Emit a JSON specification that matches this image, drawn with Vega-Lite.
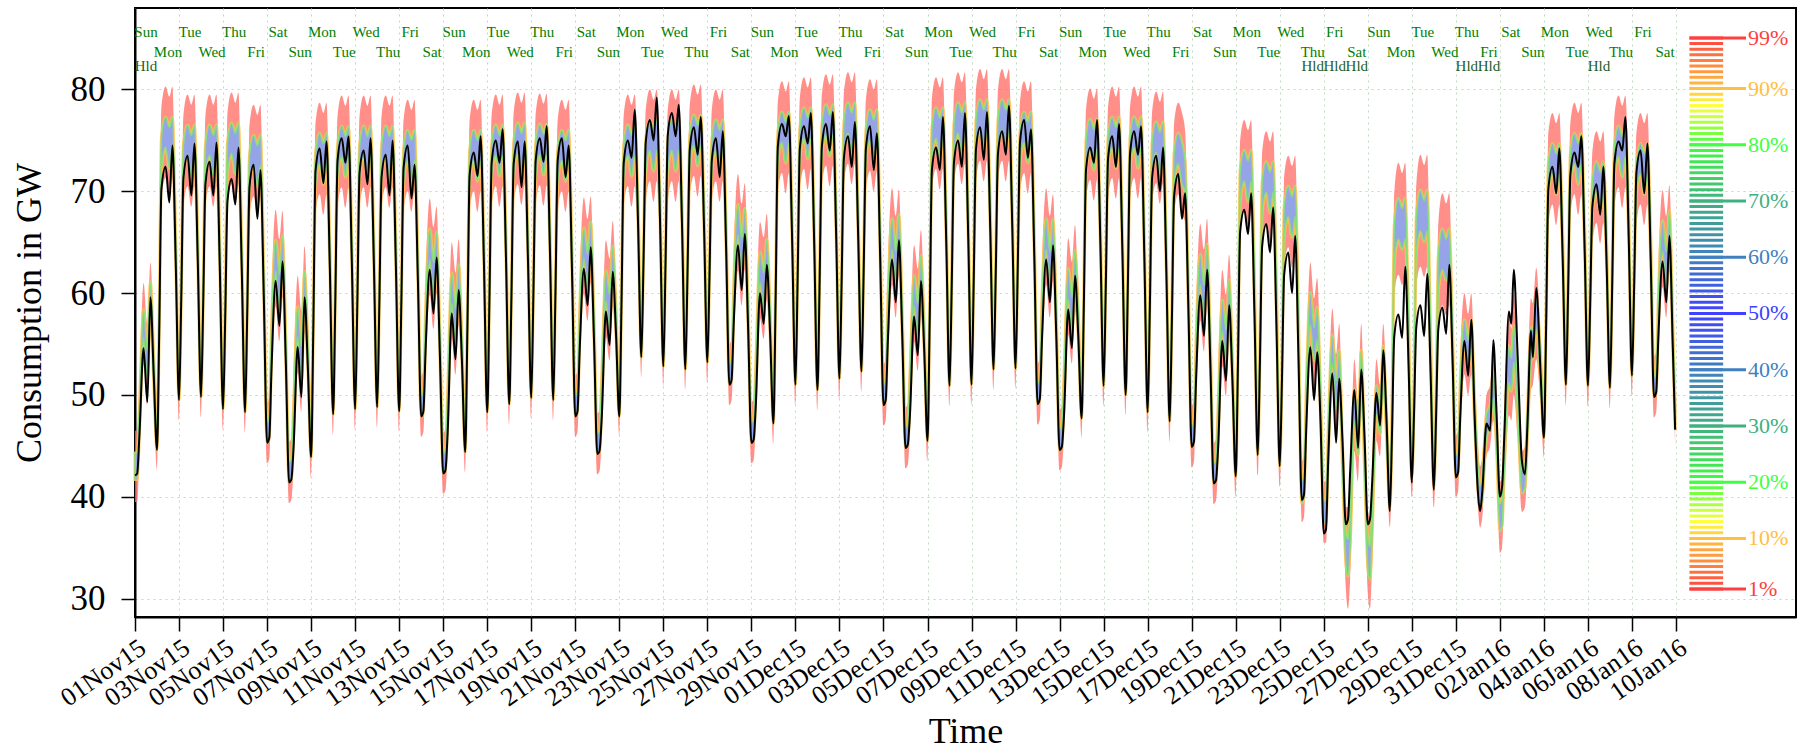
{
"$schema":"https://vega.github.io/schema/vega-lite/v6.json",
"width":1661,"height":609,"autosize":"none",
"padding":{"left":135,"top":8,"right":4,"bottom":133},
"background":"white",
"config":{"view":{"stroke":"black","strokeWidth":2},"font":"Liberation Serif",
 "axis":{"labelFont":"Liberation Serif","titleFont":"Liberation Serif","labelColor":"black","titleColor":"black","titleFontWeight":"normal","tickColor":"black","domainColor":"black","domainWidth":2,"tickWidth":1.5,"gridColor":"#BFD9BF","gridDash":[2,4],"gridWidth":1}},
"datasets":{
"fc":[
{"t":0,"y":42.1,"l":39.5,"p":41.7,"q":44.3,"h":46.5},
{"t":0.1,"y":42.3,"l":39.5,"p":41.7,"q":44.3,"h":46.5},
{"t":0.2,"y":46,"l":44,"p":46.2,"q":48.8,"h":51},
{"t":0.39,"y":54.6,"l":53,"p":55.6,"q":58.4,"h":61},
{"t":0.56,"y":49.3,"l":49,"p":51.6,"q":54.4,"h":57},
{"t":0.7,"y":59.6,"l":57,"p":58.9,"q":61.1,"h":63},
{"t":0.85,"y":52,"l":49,"p":51.2,"q":53.8,"h":56},
{"t":1,"y":44.6,"l":42.6,"p":44.6,"q":46.6,"h":48.6},
{"t":1.1,"y":56.1,"l":54.1,"p":56.1,"q":58.1,"h":60.1},
{"t":1.2,"y":70.2,"l":69.3,"p":72.3,"q":75.3,"h":78.3},
{"t":1.39,"y":72.4,"l":71.3,"p":74.3,"q":77.3,"h":80.3},
{"t":1.56,"y":68.9,"l":69.3,"p":72.3,"q":76.3,"h":79.3},
{"t":1.7,"y":74.5,"l":71.3,"p":74.3,"q":77.3,"h":80.3},
{"t":1.85,"y":63,"l":60.5,"p":63,"q":65.5,"h":67.5},
{"t":2,"y":49.5,"l":47.5,"p":49.5,"q":51.5,"h":53.5},
{"t":2.1,"y":59.3,"l":57.3,"p":59.3,"q":61.3,"h":63.3},
{"t":2.2,"y":71.3,"l":68.5,"p":71.5,"q":74.5,"h":77.5},
{"t":2.39,"y":73.5,"l":70.5,"p":73.5,"q":76.5,"h":79.5},
{"t":2.56,"y":69.6,"l":68.5,"p":71.5,"q":75.5,"h":78.5},
{"t":2.7,"y":74.7,"l":70.5,"p":73.5,"q":76.5,"h":79.5},
{"t":2.85,"y":63.3,"l":60.8,"p":63.3,"q":65.8,"h":67.8},
{"t":3,"y":49.8,"l":47.8,"p":49.8,"q":51.8,"h":53.8},
{"t":3.1,"y":59.2,"l":57.2,"p":59.2,"q":61.2,"h":63.2},
{"t":3.2,"y":70.7,"l":68.5,"p":71.5,"q":74.5,"h":77.5},
{"t":3.39,"y":72.9,"l":70.5,"p":73.5,"q":76.5,"h":79.5},
{"t":3.56,"y":69.6,"l":68.5,"p":71.5,"q":75.5,"h":78.5},
{"t":3.7,"y":74.8,"l":70.5,"p":73.5,"q":76.5,"h":79.5},
{"t":3.85,"y":62.7,"l":60.2,"p":62.7,"q":65.2,"h":67.2},
{"t":4,"y":48.6,"l":46.6,"p":48.6,"q":50.6,"h":52.6},
{"t":4.1,"y":57.8,"l":55.8,"p":57.8,"q":59.8,"h":61.8},
{"t":4.2,"y":69,"l":68.7,"p":71.7,"q":74.7,"h":77.7},
{"t":4.39,"y":71.2,"l":70.7,"p":73.7,"q":76.7,"h":79.7},
{"t":4.56,"y":68.7,"l":68.7,"p":71.7,"q":75.7,"h":78.7},
{"t":4.7,"y":74.3,"l":70.7,"p":73.7,"q":76.7,"h":79.7},
{"t":4.85,"y":62.3,"l":59.8,"p":62.3,"q":64.8,"h":66.8},
{"t":5,"y":48.3,"l":46.3,"p":48.3,"q":50.3,"h":52.3},
{"t":5.1,"y":58.2,"l":56.2,"p":58.2,"q":60.2,"h":62.2},
{"t":5.2,"y":70.4,"l":67.5,"p":70.5,"q":73.5,"h":76.5},
{"t":5.39,"y":72.6,"l":69.5,"p":72.5,"q":75.5,"h":78.5},
{"t":5.56,"y":67.3,"l":67.5,"p":70.5,"q":74.5,"h":77.5},
{"t":5.7,"y":72.1,"l":69.5,"p":72.5,"q":75.5,"h":78.5},
{"t":5.85,"y":59.7,"l":57.2,"p":59.7,"q":62.2,"h":64.2},
{"t":6,"y":45.3,"l":43.3,"p":45.3,"q":47.3,"h":49.3},
{"t":6.1,"y":45.8,"l":43.8,"p":45.8,"q":47.8,"h":49.8},
{"t":6.2,"y":52.5,"l":50.5,"p":53.5,"q":56.5,"h":59.5},
{"t":6.39,"y":61.2,"l":58.7,"p":62.2,"q":65.2,"h":68.2},
{"t":6.56,"y":56.8,"l":55.3,"p":58.3,"q":61.8,"h":65.3},
{"t":6.7,"y":63.1,"l":59.6,"p":62.6,"q":65.6,"h":68.1},
{"t":6.85,"y":53.3,"l":50.8,"p":53.3,"q":55.8,"h":57.8},
{"t":7,"y":41.4,"l":39.4,"p":41.4,"q":43.4,"h":45.4},
{"t":7.1,"y":41.7,"l":39.7,"p":41.7,"q":43.7,"h":45.7},
{"t":7.2,"y":44.7,"l":42.7,"p":45.7,"q":48.7,"h":51.7},
{"t":7.39,"y":54.7,"l":52.2,"p":55.7,"q":58.7,"h":61.7},
{"t":7.56,"y":49.8,"l":48.3,"p":51.3,"q":54.8,"h":58.3},
{"t":7.7,"y":59.6,"l":56.1,"p":59.1,"q":62.1,"h":64.6},
{"t":7.85,"y":52.8,"l":50.3,"p":52.8,"q":55.3,"h":57.3},
{"t":8,"y":43.9,"l":41.9,"p":43.9,"q":45.9,"h":47.9},
{"t":8.1,"y":56.5,"l":54.5,"p":56.5,"q":58.5,"h":60.5},
{"t":8.2,"y":72,"l":67.7,"p":70.7,"q":73.7,"h":76.7},
{"t":8.39,"y":74.2,"l":69.7,"p":72.7,"q":75.7,"h":78.7},
{"t":8.56,"y":70.8,"l":67.7,"p":70.7,"q":74.7,"h":77.7},
{"t":8.7,"y":74.9,"l":69.7,"p":72.7,"q":75.7,"h":78.7},
{"t":8.85,"y":62.5,"l":60,"p":62.5,"q":65,"h":67},
{"t":9,"y":48.1,"l":46.1,"p":48.1,"q":50.1,"h":52.1},
{"t":9.1,"y":59.3,"l":57.3,"p":59.3,"q":61.3,"h":63.3},
{"t":9.2,"y":73,"l":68.4,"p":71.4,"q":74.4,"h":77.4},
{"t":9.39,"y":75.2,"l":70.4,"p":73.4,"q":76.4,"h":79.4},
{"t":9.56,"y":72.8,"l":68.4,"p":71.4,"q":75.4,"h":78.4},
{"t":9.7,"y":75.4,"l":70.4,"p":73.4,"q":76.4,"h":79.4},
{"t":9.85,"y":63,"l":60.5,"p":63,"q":65.5,"h":67.5},
{"t":10,"y":48.6,"l":46.6,"p":48.6,"q":50.6,"h":52.6},
{"t":10.1,"y":59,"l":57,"p":59,"q":61,"h":63},
{"t":10.2,"y":71.8,"l":68.4,"p":71.4,"q":74.4,"h":77.4},
{"t":10.39,"y":74,"l":70.4,"p":73.4,"q":76.4,"h":79.4},
{"t":10.56,"y":70.7,"l":68.4,"p":71.4,"q":75.4,"h":78.4},
{"t":10.7,"y":75.2,"l":70.4,"p":73.4,"q":76.4,"h":79.4},
{"t":10.85,"y":63,"l":60.5,"p":63,"q":65.5,"h":67.5},
{"t":11,"y":48.8,"l":46.8,"p":48.8,"q":50.8,"h":52.8},
{"t":11.1,"y":59,"l":57,"p":59,"q":61,"h":63},
{"t":11.2,"y":71.4,"l":68.4,"p":71.4,"q":74.4,"h":77.4},
{"t":11.39,"y":73.6,"l":70.4,"p":73.4,"q":76.4,"h":79.4},
{"t":11.56,"y":69.6,"l":68.4,"p":71.4,"q":75.4,"h":78.4},
{"t":11.7,"y":75,"l":70.4,"p":73.4,"q":76.4,"h":79.4},
{"t":11.85,"y":62.7,"l":60.2,"p":62.7,"q":65.2,"h":67.2},
{"t":12,"y":48.4,"l":46.4,"p":48.4,"q":50.4,"h":52.4},
{"t":12.1,"y":59.2,"l":57.2,"p":59.2,"q":61.2,"h":63.2},
{"t":12.2,"y":72.3,"l":68,"p":71,"q":74,"h":77},
{"t":12.39,"y":74.5,"l":70,"p":73,"q":76,"h":79},
{"t":12.56,"y":69.3,"l":68,"p":71,"q":75,"h":78},
{"t":12.7,"y":72.6,"l":70,"p":73,"q":76,"h":79},
{"t":12.85,"y":61.3,"l":58.8,"p":61.3,"q":63.8,"h":65.8},
{"t":13,"y":47.9,"l":45.9,"p":47.9,"q":49.9,"h":51.9},
{"t":13.1,"y":48.4,"l":46.4,"p":48.4,"q":50.4,"h":52.4},
{"t":13.2,"y":54.4,"l":52.4,"p":55.4,"q":58.4,"h":61.4},
{"t":13.39,"y":62.3,"l":59.8,"p":63.3,"q":66.3,"h":69.3},
{"t":13.56,"y":58,"l":56.5,"p":59.5,"q":63,"h":66.5},
{"t":13.7,"y":63.5,"l":60,"p":63,"q":66,"h":68.5},
{"t":13.85,"y":53.9,"l":51.4,"p":53.9,"q":56.4,"h":58.4},
{"t":14,"y":42.3,"l":40.3,"p":42.3,"q":44.3,"h":46.3},
{"t":14.1,"y":42.6,"l":40.6,"p":42.6,"q":44.6,"h":46.6},
{"t":14.2,"y":46.2,"l":44.2,"p":47.2,"q":50.2,"h":53.2},
{"t":14.39,"y":58,"l":55.5,"p":59,"q":62,"h":65},
{"t":14.56,"y":53.5,"l":52,"p":55,"q":58.5,"h":62},
{"t":14.7,"y":60.3,"l":56.8,"p":59.8,"q":62.8,"h":65.3},
{"t":14.85,"y":53.4,"l":50.9,"p":53.4,"q":55.9,"h":57.9},
{"t":15,"y":44.4,"l":42.4,"p":44.4,"q":46.4,"h":48.4},
{"t":15.1,"y":56.6,"l":54.6,"p":56.6,"q":58.6,"h":60.6},
{"t":15.2,"y":71.6,"l":68,"p":71,"q":74,"h":77},
{"t":15.39,"y":73.8,"l":70,"p":73,"q":76,"h":79},
{"t":15.56,"y":71.5,"l":68,"p":71,"q":75,"h":78},
{"t":15.7,"y":75.4,"l":70,"p":73,"q":76,"h":79},
{"t":15.85,"y":62.9,"l":60.4,"p":62.9,"q":65.4,"h":67.4},
{"t":16,"y":48.3,"l":46.3,"p":48.3,"q":50.3,"h":52.3},
{"t":16.1,"y":59.3,"l":57.3,"p":59.3,"q":61.3,"h":63.3},
{"t":16.2,"y":72.8,"l":68.5,"p":71.5,"q":74.5,"h":77.5},
{"t":16.39,"y":75,"l":70.5,"p":73.5,"q":76.5,"h":79.5},
{"t":16.56,"y":72.8,"l":68.5,"p":71.5,"q":75.5,"h":78.5},
{"t":16.7,"y":76.1,"l":70.5,"p":73.5,"q":76.5,"h":79.5},
{"t":16.85,"y":63.6,"l":61.1,"p":63.6,"q":66.1,"h":68.1},
{"t":17,"y":49.1,"l":47.1,"p":49.1,"q":51.1,"h":53.1},
{"t":17.1,"y":59.7,"l":57.7,"p":59.7,"q":61.7,"h":63.7},
{"t":17.2,"y":72.7,"l":68.7,"p":71.7,"q":74.7,"h":77.7},
{"t":17.39,"y":74.9,"l":70.7,"p":73.7,"q":76.7,"h":79.7},
{"t":17.56,"y":70.4,"l":68.7,"p":71.7,"q":75.7,"h":78.7},
{"t":17.7,"y":74.9,"l":70.7,"p":73.7,"q":76.7,"h":79.7},
{"t":17.85,"y":63.3,"l":60.8,"p":63.3,"q":65.8,"h":67.8},
{"t":18,"y":49.7,"l":47.7,"p":49.7,"q":51.7,"h":53.7},
{"t":18.1,"y":60.2,"l":58.2,"p":60.2,"q":62.2,"h":64.2},
{"t":18.2,"y":73,"l":68.6,"p":71.6,"q":74.6,"h":77.6},
{"t":18.39,"y":75.2,"l":70.6,"p":73.6,"q":76.6,"h":79.6},
{"t":18.56,"y":72.9,"l":68.6,"p":71.6,"q":75.6,"h":78.6},
{"t":18.7,"y":76.4,"l":70.6,"p":73.6,"q":76.6,"h":79.6},
{"t":18.85,"y":64,"l":61.5,"p":64,"q":66.5,"h":68.5},
{"t":19,"y":49.5,"l":47.5,"p":49.5,"q":51.5,"h":53.5},
{"t":19.1,"y":60.1,"l":58.1,"p":60.1,"q":62.1,"h":64.1},
{"t":19.2,"y":73,"l":68,"p":71,"q":74,"h":77},
{"t":19.39,"y":75.2,"l":70,"p":73,"q":76,"h":79},
{"t":19.56,"y":71.4,"l":68,"p":71,"q":75,"h":78},
{"t":19.7,"y":74.5,"l":70,"p":73,"q":76,"h":79},
{"t":19.85,"y":62.2,"l":59.7,"p":62.2,"q":64.7,"h":66.7},
{"t":20,"y":47.9,"l":45.9,"p":47.9,"q":49.9,"h":51.9},
{"t":20.1,"y":48.4,"l":46.4,"p":48.4,"q":50.4,"h":52.4},
{"t":20.2,"y":54.4,"l":52.4,"p":55.4,"q":58.4,"h":61.4},
{"t":20.39,"y":62.4,"l":59.9,"p":63.4,"q":66.4,"h":69.4},
{"t":20.56,"y":58.8,"l":57.3,"p":60.3,"q":63.8,"h":67.3},
{"t":20.7,"y":64.5,"l":61,"p":64,"q":67,"h":69.5},
{"t":20.85,"y":55.4,"l":52.9,"p":55.4,"q":57.9,"h":59.9},
{"t":21,"y":44.2,"l":42.2,"p":44.2,"q":46.2,"h":48.2},
{"t":21.1,"y":44.5,"l":42.5,"p":44.5,"q":46.5,"h":48.5},
{"t":21.2,"y":47.7,"l":45.7,"p":48.7,"q":51.7,"h":54.7},
{"t":21.39,"y":58.2,"l":55.7,"p":59.2,"q":62.2,"h":65.2},
{"t":21.56,"y":54.9,"l":53.4,"p":56.4,"q":59.9,"h":63.4},
{"t":21.7,"y":62.1,"l":58.6,"p":61.6,"q":64.6,"h":67.1},
{"t":21.85,"y":56,"l":53.5,"p":56,"q":58.5,"h":60.5},
{"t":22,"y":47.9,"l":45.9,"p":47.9,"q":49.9,"h":51.9},
{"t":22.1,"y":59.1,"l":57.1,"p":59.1,"q":61.1,"h":63.1},
{"t":22.2,"y":72.8,"l":68.5,"p":71.5,"q":74.5,"h":77.5},
{"t":22.39,"y":75,"l":70.5,"p":73.5,"q":76.5,"h":79.5},
{"t":22.56,"y":73.3,"l":68.5,"p":71.5,"q":75.5,"h":78.5},
{"t":22.7,"y":78,"l":70.5,"p":73.5,"q":76.5,"h":79.5},
{"t":22.85,"y":66.9,"l":64.4,"p":66.9,"q":69.4,"h":71.4},
{"t":23,"y":53.7,"l":51.7,"p":53.7,"q":55.7,"h":57.7},
{"t":23.1,"y":63.2,"l":61.2,"p":63.2,"q":65.2,"h":67.2},
{"t":23.2,"y":74.8,"l":69,"p":72,"q":75,"h":78},
{"t":23.39,"y":77,"l":71,"p":74,"q":77,"h":80},
{"t":23.56,"y":75,"l":69,"p":72,"q":76,"h":79},
{"t":23.7,"y":79.2,"l":71,"p":74,"q":77,"h":80},
{"t":23.85,"y":67,"l":64.5,"p":67,"q":69.5,"h":71.5},
{"t":24,"y":52.8,"l":50.8,"p":52.8,"q":54.8,"h":56.8},
{"t":24.1,"y":63,"l":61,"p":63,"q":65,"h":67},
{"t":24.2,"y":75.5,"l":69,"p":72,"q":75,"h":78},
{"t":24.39,"y":77.7,"l":71,"p":74,"q":77,"h":80},
{"t":24.56,"y":75.4,"l":69,"p":72,"q":76,"h":79},
{"t":24.7,"y":78.5,"l":71,"p":74,"q":77,"h":80},
{"t":24.85,"y":66.5,"l":64,"p":66.5,"q":69,"h":71},
{"t":25,"y":52.5,"l":50.5,"p":52.5,"q":54.5,"h":56.5},
{"t":25.1,"y":62.2,"l":60.2,"p":62.2,"q":64.2,"h":66.2},
{"t":25.2,"y":74.1,"l":69.5,"p":72.5,"q":75.5,"h":78.5},
{"t":25.39,"y":76.3,"l":71.5,"p":74.5,"q":77.5,"h":80.5},
{"t":25.56,"y":73.6,"l":69.5,"p":72.5,"q":76.5,"h":79.5},
{"t":25.7,"y":77.3,"l":71.5,"p":74.5,"q":77.5,"h":80.5},
{"t":25.85,"y":66.3,"l":63.8,"p":66.3,"q":68.8,"h":70.8},
{"t":26,"y":53.2,"l":51.2,"p":53.2,"q":55.2,"h":57.2},
{"t":26.1,"y":62.1,"l":60.1,"p":62.1,"q":64.1,"h":66.1},
{"t":26.2,"y":73,"l":69,"p":72,"q":75,"h":78},
{"t":26.39,"y":75.2,"l":71,"p":74,"q":77,"h":80},
{"t":26.56,"y":71.4,"l":69,"p":72,"q":76,"h":79},
{"t":26.7,"y":75.9,"l":71,"p":74,"q":77,"h":80},
{"t":26.85,"y":64.5,"l":62,"p":64.5,"q":67,"h":69},
{"t":27,"y":51,"l":49,"p":51,"q":53,"h":55},
{"t":27.1,"y":51.5,"l":49.5,"p":51.5,"q":53.5,"h":55.5},
{"t":27.2,"y":57.2,"l":55.2,"p":58.2,"q":61.2,"h":64.2},
{"t":27.39,"y":64.7,"l":62.2,"p":65.7,"q":68.7,"h":71.7},
{"t":27.56,"y":60.3,"l":58.8,"p":61.8,"q":65.3,"h":68.8},
{"t":27.7,"y":65.8,"l":62.3,"p":65.3,"q":68.3,"h":70.8},
{"t":27.85,"y":56.6,"l":54.1,"p":56.6,"q":59.1,"h":61.1},
{"t":28,"y":45.3,"l":43.3,"p":45.3,"q":47.3,"h":49.3},
{"t":28.1,"y":45.6,"l":43.6,"p":45.6,"q":47.6,"h":49.6},
{"t":28.2,"y":49,"l":47,"p":50,"q":53,"h":56},
{"t":28.39,"y":60,"l":57.5,"p":61,"q":64,"h":67},
{"t":28.56,"y":57,"l":55.5,"p":58.5,"q":62,"h":65.5},
{"t":28.7,"y":62.8,"l":59.3,"p":62.3,"q":65.3,"h":67.8},
{"t":28.85,"y":56,"l":53.5,"p":56,"q":58.5,"h":60.5},
{"t":29,"y":47.2,"l":45.2,"p":47.2,"q":49.2,"h":51.2},
{"t":29.1,"y":59.4,"l":57.4,"p":59.4,"q":61.4,"h":63.4},
{"t":29.2,"y":74.4,"l":69.8,"p":72.8,"q":75.8,"h":78.8},
{"t":29.39,"y":76.6,"l":71.8,"p":74.8,"q":77.8,"h":80.8},
{"t":29.56,"y":75.4,"l":69.8,"p":72.8,"q":76.8,"h":79.8},
{"t":29.7,"y":77.4,"l":71.8,"p":74.8,"q":77.8,"h":80.8},
{"t":29.85,"y":65.2,"l":62.7,"p":65.2,"q":67.7,"h":69.7},
{"t":30,"y":51,"l":49,"p":51,"q":53,"h":55},
{"t":30.1,"y":61.4,"l":59.4,"p":61.4,"q":63.4,"h":65.4},
{"t":30.2,"y":74.2,"l":70.2,"p":73.2,"q":76.2,"h":79.2},
{"t":30.39,"y":76.4,"l":72.2,"p":75.2,"q":78.2,"h":81.2},
{"t":30.56,"y":74.7,"l":70.2,"p":73.2,"q":77.2,"h":80.2},
{"t":30.7,"y":77.7,"l":72.2,"p":75.2,"q":78.2,"h":81.2},
{"t":30.85,"y":65.1,"l":62.6,"p":65.1,"q":67.6,"h":69.6},
{"t":31,"y":50.5,"l":48.5,"p":50.5,"q":52.5,"h":54.5},
{"t":31.1,"y":61.3,"l":59.3,"p":61.3,"q":63.3,"h":65.3},
{"t":31.2,"y":74.4,"l":70.5,"p":73.5,"q":76.5,"h":79.5},
{"t":31.39,"y":76.6,"l":72.5,"p":75.5,"q":78.5,"h":81.5},
{"t":31.56,"y":74,"l":70.5,"p":73.5,"q":77.5,"h":80.5},
{"t":31.7,"y":77.8,"l":72.5,"p":75.5,"q":78.5,"h":81.5},
{"t":31.85,"y":65.7,"l":63.2,"p":65.7,"q":68.2,"h":70.2},
{"t":32,"y":51.6,"l":49.6,"p":51.6,"q":53.6,"h":55.6},
{"t":32.1,"y":61.3,"l":59.3,"p":61.3,"q":63.3,"h":65.3},
{"t":32.2,"y":73.2,"l":70.7,"p":73.7,"q":76.7,"h":79.7},
{"t":32.39,"y":75.4,"l":72.7,"p":75.7,"q":78.7,"h":81.7},
{"t":32.56,"y":72.4,"l":70.7,"p":73.7,"q":77.7,"h":80.7},
{"t":32.7,"y":76.8,"l":72.7,"p":75.7,"q":78.7,"h":81.7},
{"t":32.85,"y":65.6,"l":63.1,"p":65.6,"q":68.1,"h":70.1},
{"t":33,"y":52.3,"l":50.3,"p":52.3,"q":54.3,"h":56.3},
{"t":33.1,"y":62.2,"l":60.2,"p":62.2,"q":64.2,"h":66.2},
{"t":33.2,"y":74.2,"l":70,"p":73,"q":76,"h":79},
{"t":33.39,"y":76.4,"l":72,"p":75,"q":78,"h":81},
{"t":33.56,"y":72.1,"l":70,"p":73,"q":77,"h":80},
{"t":33.7,"y":75.7,"l":72,"p":75,"q":78,"h":81},
{"t":33.85,"y":63.4,"l":60.9,"p":63.4,"q":65.9,"h":67.9},
{"t":34,"y":49,"l":47,"p":49,"q":51,"h":53},
{"t":34.1,"y":49.5,"l":47.5,"p":49.5,"q":51.5,"h":53.5},
{"t":34.2,"y":55.4,"l":53.4,"p":56.4,"q":59.4,"h":62.4},
{"t":34.39,"y":63.3,"l":60.8,"p":64.3,"q":67.3,"h":70.3},
{"t":34.56,"y":59.1,"l":57.6,"p":60.6,"q":64.1,"h":67.6},
{"t":34.7,"y":65.2,"l":61.7,"p":64.7,"q":67.7,"h":70.2},
{"t":34.85,"y":56,"l":53.5,"p":56,"q":58.5,"h":60.5},
{"t":35,"y":44.8,"l":42.8,"p":44.8,"q":46.8,"h":48.8},
{"t":35.1,"y":45.1,"l":43.1,"p":45.1,"q":47.1,"h":49.1},
{"t":35.2,"y":48,"l":46,"p":49,"q":52,"h":55},
{"t":35.39,"y":57.7,"l":55.2,"p":58.7,"q":61.7,"h":64.7},
{"t":35.56,"y":53.9,"l":52.4,"p":55.4,"q":58.9,"h":62.4},
{"t":35.7,"y":61.2,"l":57.7,"p":60.7,"q":63.7,"h":66.2},
{"t":35.85,"y":54.4,"l":51.9,"p":54.4,"q":56.9,"h":58.9},
{"t":36,"y":45.5,"l":43.5,"p":45.5,"q":47.5,"h":49.5},
{"t":36.1,"y":57.5,"l":55.5,"p":57.5,"q":59.5,"h":61.5},
{"t":36.2,"y":72.1,"l":70.2,"p":73.2,"q":76.2,"h":79.2},
{"t":36.39,"y":74.3,"l":72.2,"p":75.2,"q":78.2,"h":81.2},
{"t":36.56,"y":72.1,"l":70.2,"p":73.2,"q":77.2,"h":80.2},
{"t":36.7,"y":77.3,"l":72.2,"p":75.2,"q":78.2,"h":81.2},
{"t":36.85,"y":65.1,"l":62.6,"p":65.1,"q":67.6,"h":69.6},
{"t":37,"y":50.9,"l":48.9,"p":50.9,"q":52.9,"h":54.9},
{"t":37.1,"y":60.8,"l":58.8,"p":60.8,"q":62.8,"h":64.8},
{"t":37.2,"y":72.8,"l":70.7,"p":73.7,"q":76.7,"h":79.7},
{"t":37.39,"y":75,"l":72.7,"p":75.7,"q":78.7,"h":81.7},
{"t":37.56,"y":72.4,"l":70.7,"p":73.7,"q":77.7,"h":80.7},
{"t":37.7,"y":77.7,"l":72.7,"p":75.7,"q":78.7,"h":81.7},
{"t":37.85,"y":65.4,"l":62.9,"p":65.4,"q":67.9,"h":69.9},
{"t":38,"y":51,"l":49,"p":51,"q":53,"h":55},
{"t":38.1,"y":61.4,"l":59.4,"p":61.4,"q":63.4,"h":65.4},
{"t":38.2,"y":74.1,"l":71,"p":74,"q":77,"h":80},
{"t":38.39,"y":76.3,"l":73,"p":76,"q":79,"h":82},
{"t":38.56,"y":73.1,"l":71,"p":74,"q":78,"h":81},
{"t":38.7,"y":77.8,"l":73,"p":76,"q":79,"h":82},
{"t":38.85,"y":66.2,"l":63.7,"p":66.2,"q":68.7,"h":70.7},
{"t":39,"y":52.5,"l":50.5,"p":52.5,"q":54.5,"h":56.5},
{"t":39.1,"y":62,"l":60,"p":62,"q":64,"h":66},
{"t":39.2,"y":73.7,"l":71,"p":74,"q":77,"h":80},
{"t":39.39,"y":75.9,"l":73,"p":76,"q":79,"h":82},
{"t":39.56,"y":73.6,"l":71,"p":74,"q":78,"h":81},
{"t":39.7,"y":78.4,"l":73,"p":76,"q":79,"h":82},
{"t":39.85,"y":66.5,"l":64,"p":66.5,"q":69,"h":71},
{"t":40,"y":52.6,"l":50.6,"p":52.6,"q":54.6,"h":56.6},
{"t":40.1,"y":62.6,"l":60.6,"p":62.6,"q":64.6,"h":66.6},
{"t":40.2,"y":74.8,"l":69.8,"p":72.8,"q":75.8,"h":78.8},
{"t":40.39,"y":77,"l":71.8,"p":74.8,"q":77.8,"h":80.8},
{"t":40.56,"y":73.3,"l":69.8,"p":72.8,"q":76.8,"h":79.8},
{"t":40.7,"y":76.1,"l":71.8,"p":74.8,"q":77.8,"h":80.8},
{"t":40.85,"y":63.6,"l":61.1,"p":63.6,"q":66.1,"h":68.1},
{"t":41,"y":49.1,"l":47.1,"p":49.1,"q":51.1,"h":53.1},
{"t":41.1,"y":49.6,"l":47.6,"p":49.6,"q":51.6,"h":53.6},
{"t":41.2,"y":55.5,"l":53.5,"p":56.5,"q":59.5,"h":62.5},
{"t":41.39,"y":63.3,"l":60.8,"p":64.3,"q":67.3,"h":70.3},
{"t":41.56,"y":59.1,"l":57.6,"p":60.6,"q":64.1,"h":67.6},
{"t":41.7,"y":64.7,"l":61.2,"p":64.2,"q":67.2,"h":69.7},
{"t":41.85,"y":55.7,"l":53.2,"p":55.7,"q":58.2,"h":60.2},
{"t":42,"y":44.6,"l":42.6,"p":44.6,"q":46.6,"h":48.6},
{"t":42.1,"y":44.9,"l":42.9,"p":44.9,"q":46.9,"h":48.9},
{"t":42.2,"y":48,"l":46,"p":49,"q":52,"h":55},
{"t":42.39,"y":58.4,"l":55.9,"p":59.4,"q":62.4,"h":65.4},
{"t":42.56,"y":54.6,"l":53.1,"p":56.1,"q":59.6,"h":63.1},
{"t":42.7,"y":61.7,"l":58.2,"p":61.2,"q":64.2,"h":66.7},
{"t":42.85,"y":55.7,"l":53.2,"p":55.7,"q":58.2,"h":60.2},
{"t":43,"y":47.7,"l":45.7,"p":47.7,"q":49.7,"h":51.7},
{"t":43.1,"y":58.7,"l":56.7,"p":58.7,"q":60.7,"h":62.7},
{"t":43.2,"y":72.1,"l":69.1,"p":72.1,"q":75.1,"h":78.1},
{"t":43.39,"y":74.3,"l":71.1,"p":74.1,"q":77.1,"h":80.1},
{"t":43.56,"y":72.8,"l":69.1,"p":72.1,"q":76.1,"h":79.1},
{"t":43.7,"y":77,"l":71.1,"p":74.1,"q":77.1,"h":80.1},
{"t":43.85,"y":65,"l":62.5,"p":65,"q":67.5,"h":69.5},
{"t":44,"y":50.9,"l":48.9,"p":50.9,"q":52.9,"h":54.9},
{"t":44.1,"y":60.9,"l":58.9,"p":60.9,"q":62.9,"h":64.9},
{"t":44.2,"y":73.2,"l":69.3,"p":72.3,"q":75.3,"h":78.3},
{"t":44.39,"y":75.4,"l":71.3,"p":74.3,"q":77.3,"h":80.3},
{"t":44.56,"y":72.4,"l":69.3,"p":72.3,"q":76.3,"h":79.3},
{"t":44.7,"y":76.6,"l":71.3,"p":74.3,"q":77.3,"h":80.3},
{"t":44.85,"y":64.3,"l":61.8,"p":64.3,"q":66.8,"h":68.8},
{"t":45,"y":50,"l":48,"p":50,"q":52,"h":54},
{"t":45.1,"y":60.7,"l":58.7,"p":60.7,"q":62.7,"h":64.7},
{"t":45.2,"y":73.7,"l":69.3,"p":72.3,"q":75.3,"h":78.3},
{"t":45.39,"y":75.9,"l":71.3,"p":74.3,"q":77.3,"h":80.3},
{"t":45.56,"y":73.6,"l":69.3,"p":72.3,"q":76.3,"h":79.3},
{"t":45.7,"y":76.4,"l":71.3,"p":74.3,"q":77.3,"h":80.3},
{"t":45.85,"y":63.4,"l":60.9,"p":63.4,"q":65.9,"h":67.9},
{"t":46,"y":48.3,"l":46.3,"p":48.3,"q":50.3,"h":52.3},
{"t":46.1,"y":58.7,"l":56.7,"p":58.7,"q":60.7,"h":62.7},
{"t":46.2,"y":71.3,"l":68.8,"p":71.8,"q":74.8,"h":77.8},
{"t":46.39,"y":73.5,"l":70.8,"p":73.8,"q":76.8,"h":79.8},
{"t":46.56,"y":70,"l":68.8,"p":71.8,"q":75.8,"h":78.8},
{"t":46.7,"y":74.3,"l":70.8,"p":73.8,"q":76.8,"h":79.8},
{"t":46.85,"y":61.9,"l":59.4,"p":61.9,"q":64.4,"h":66.4},
{"t":47,"y":47.4,"l":45.4,"p":47.4,"q":49.4,"h":51.4},
{"t":47.1,"y":57.3,"l":55.3,"p":57.3,"q":59.3,"h":61.3},
{"t":47.2,"y":69.5,"l":67.7,"p":70.7,"q":73.7,"h":76.7},
{"t":47.39,"y":71.7,"l":69.7,"p":72.7,"q":75.7,"h":78.7},
{"t":47.56,"y":67.3,"l":67.7,"p":70.7,"q":74.7,"h":77.7},
{"t":47.7,"y":69.8,"l":67,"p":70,"q":73,"h":76},
{"t":47.85,"y":58.4,"l":55.9,"p":58.4,"q":60.9,"h":62.9},
{"t":48,"y":44.9,"l":42.9,"p":44.9,"q":46.9,"h":48.9},
{"t":48.1,"y":45.4,"l":43.4,"p":45.4,"q":47.4,"h":49.4},
{"t":48.2,"y":51.6,"l":49.6,"p":52.6,"q":55.6,"h":58.6},
{"t":48.39,"y":59.8,"l":57.3,"p":60.8,"q":63.8,"h":66.8},
{"t":48.56,"y":55.8,"l":54.3,"p":57.3,"q":60.8,"h":64.3},
{"t":48.7,"y":62.3,"l":58.8,"p":61.8,"q":64.8,"h":67.3},
{"t":48.85,"y":52.8,"l":50.3,"p":52.8,"q":55.3,"h":57.3},
{"t":49,"y":41.3,"l":39.3,"p":41.3,"q":43.3,"h":45.3},
{"t":49.1,"y":41.6,"l":39.6,"p":41.6,"q":43.6,"h":45.6},
{"t":49.2,"y":44.8,"l":42.8,"p":45.8,"q":48.8,"h":51.8},
{"t":49.39,"y":55.3,"l":52.8,"p":56.3,"q":59.3,"h":62.3},
{"t":49.56,"y":51.4,"l":49.9,"p":52.9,"q":56.4,"h":59.9},
{"t":49.7,"y":58.8,"l":55.3,"p":58.3,"q":61.3,"h":63.8},
{"t":49.85,"y":51.4,"l":48.9,"p":51.4,"q":53.9,"h":55.9},
{"t":50,"y":42,"l":40,"p":42,"q":44,"h":46},
{"t":50.1,"y":52.8,"l":50.8,"p":52.8,"q":54.8,"h":56.8},
{"t":50.2,"y":66,"l":66,"p":69,"q":72,"h":75},
{"t":50.39,"y":68.2,"l":68,"p":71,"q":74,"h":77},
{"t":50.56,"y":65.8,"l":66,"p":69,"q":73,"h":76},
{"t":50.7,"y":69.8,"l":68,"p":71,"q":74,"h":77},
{"t":50.85,"y":58,"l":56,"p":59,"q":62,"h":64},
{"t":51,"y":44.1,"l":42.1,"p":44.1,"q":46.1,"h":48.1},
{"t":51.1,"y":53.3,"l":51.3,"p":53.3,"q":55.3,"h":57.3},
{"t":51.2,"y":64.6,"l":64.9,"p":67.9,"q":70.9,"h":73.9},
{"t":51.39,"y":66.8,"l":66.9,"p":69.9,"q":72.9,"h":75.9},
{"t":51.56,"y":64,"l":64.9,"p":67.9,"q":71.9,"h":74.9},
{"t":51.7,"y":68.4,"l":66.9,"p":69.9,"q":72.9,"h":75.9},
{"t":51.85,"y":56.7,"l":55,"p":58,"q":61,"h":63},
{"t":52,"y":43,"l":41,"p":43,"q":45,"h":47},
{"t":52.1,"y":51.5,"l":49.5,"p":51.5,"q":53.5,"h":55.5},
{"t":52.2,"y":61.8,"l":62.5,"p":65.5,"q":68.5,"h":71.5},
{"t":52.39,"y":64,"l":64.5,"p":67.5,"q":70.5,"h":73.5},
{"t":52.56,"y":60,"l":62.5,"p":65.5,"q":69.5,"h":72.5},
{"t":52.7,"y":65.6,"l":64.5,"p":67.5,"q":70.5,"h":73.5},
{"t":52.85,"y":53.7,"l":52,"p":55,"q":58,"h":60},
{"t":53,"y":39.7,"l":37.5,"p":39.4,"q":41.6,"h":43.5},
{"t":53.1,"y":40.2,"l":38,"p":39.9,"q":42.1,"h":44},
{"t":53.2,"y":46.5,"l":45,"p":47.6,"q":50.4,"h":53},
{"t":53.39,"y":54.7,"l":54,"p":56.9,"q":60.1,"h":63},
{"t":53.56,"y":49.5,"l":50.5,"p":53.4,"q":56.6,"h":59.5},
{"t":53.7,"y":54.2,"l":52.5,"p":55.4,"q":58.6,"h":61.5},
{"t":53.85,"y":47.5,"l":46,"p":48.2,"q":50.8,"h":53},
{"t":54,"y":36.4,"l":35.5,"p":37.4,"q":39.6,"h":41.5},
{"t":54.1,"y":36.8,"l":35.5,"p":37.4,"q":39.6,"h":41.5},
{"t":54.2,"y":43.5,"l":41,"p":43.6,"q":46.4,"h":49},
{"t":54.39,"y":52.1,"l":50.5,"p":53.1,"q":55.9,"h":58.5},
{"t":54.56,"y":45.3,"l":46,"p":48.6,"q":51.4,"h":54},
{"t":54.7,"y":51.6,"l":49,"p":51.6,"q":54.4,"h":57},
{"t":54.85,"y":45.5,"l":40.5,"p":42.7,"q":45.3,"h":47.5},
{"t":55,"y":37.3,"l":31,"p":33.6,"q":36.4,"h":39},
{"t":55.1,"y":37.8,"l":29,"p":32.2,"q":35.8,"h":39},
{"t":55.2,"y":42.6,"l":32,"p":35.2,"q":38.8,"h":42},
{"t":55.39,"y":50.5,"l":44.5,"p":47.4,"q":50.6,"h":53.5},
{"t":55.56,"y":44.8,"l":41.5,"p":44.1,"q":46.9,"h":49.5},
{"t":55.7,"y":52.5,"l":49,"p":51.6,"q":54.4,"h":57},
{"t":55.85,"y":45.9,"l":40.5,"p":42.7,"q":45.3,"h":47.5},
{"t":56,"y":37.3,"l":30.5,"p":33.1,"q":35.9,"h":38.5},
{"t":56.1,"y":37.8,"l":29,"p":31.9,"q":35.1,"h":38},
{"t":56.2,"y":41.5,"l":33.5,"p":36.4,"q":39.6,"h":42.5},
{"t":56.39,"y":50.2,"l":45.5,"p":48.1,"q":50.9,"h":53.5},
{"t":56.56,"y":47,"l":44,"p":46.2,"q":48.8,"h":51},
{"t":56.7,"y":54.4,"l":50,"p":52.2,"q":54.8,"h":57},
{"t":56.85,"y":47.5,"l":43.5,"p":45.7,"q":48.3,"h":50.5},
{"t":57,"y":38.6,"l":37,"p":38.9,"q":41.1,"h":43},
{"t":57.1,"y":46.3,"l":44,"p":46.6,"q":49.4,"h":52},
{"t":57.2,"y":55.7,"l":59.8,"p":63,"q":66.6,"h":69.8},
{"t":57.39,"y":57.9,"l":61.8,"p":65.3,"q":69.3,"h":72.8},
{"t":57.56,"y":55.6,"l":60.8,"p":64.3,"q":68.3,"h":71.8},
{"t":57.7,"y":62.6,"l":61.8,"p":65.3,"q":69.3,"h":72.8},
{"t":57.85,"y":53,"l":51.5,"p":54.4,"q":57.6,"h":60.5},
{"t":58,"y":41.4,"l":40,"p":41.9,"q":44.1,"h":46},
{"t":58.1,"y":48.2,"l":46,"p":48.6,"q":51.4,"h":54},
{"t":58.2,"y":56.6,"l":60.6,"p":63.8,"q":67.4,"h":70.6},
{"t":58.39,"y":58.8,"l":62.6,"p":66.1,"q":70.1,"h":73.6},
{"t":58.56,"y":55.8,"l":61.6,"p":65.1,"q":69.1,"h":72.6},
{"t":58.7,"y":61.9,"l":62.6,"p":66.1,"q":70.1,"h":73.6},
{"t":58.85,"y":52.3,"l":50.5,"p":53.4,"q":56.6,"h":59.5},
{"t":59,"y":40.7,"l":39,"p":40.9,"q":43.1,"h":45},
{"t":59.1,"y":47.8,"l":45,"p":47.6,"q":50.4,"h":53},
{"t":59.2,"y":56.4,"l":56.8,"p":60,"q":63.6,"h":66.8},
{"t":59.39,"y":58.6,"l":58.8,"p":62.3,"q":66.3,"h":69.8},
{"t":59.56,"y":56,"l":57.8,"p":61.3,"q":65.3,"h":68.8},
{"t":59.7,"y":62.8,"l":58.8,"p":62.3,"q":66.3,"h":69.8},
{"t":59.85,"y":53.4,"l":51,"p":53.6,"q":56.4,"h":59},
{"t":60,"y":41.9,"l":40,"p":41.9,"q":44.1,"h":46},
{"t":60.1,"y":42.4,"l":40.5,"p":42.4,"q":44.6,"h":46.5},
{"t":60.2,"y":47.9,"l":46,"p":48.6,"q":51.4,"h":54},
{"t":60.39,"y":55.3,"l":52,"p":54.6,"q":57.4,"h":60},
{"t":60.56,"y":51.9,"l":50,"p":52.6,"q":55.4,"h":58},
{"t":60.7,"y":57.4,"l":52,"p":54.6,"q":57.4,"h":60},
{"t":60.85,"y":48,"l":45,"p":47.2,"q":49.8,"h":52},
{"t":61,"y":40.5,"l":39,"p":40.9,"q":43.1,"h":45},
{"t":61.1,"y":38.6,"l":37,"p":38.9,"q":41.1,"h":43},
{"t":61.2,"y":40.5,"l":38,"p":39.9,"q":42.1,"h":44},
{"t":61.39,"y":47.2,"l":44,"p":45.9,"q":48.1,"h":50},
{"t":61.56,"y":46.5,"l":45,"p":46.9,"q":49.1,"h":51},
{"t":61.7,"y":55.4,"l":47.5,"p":49.7,"q":52.3,"h":54.5},
{"t":61.85,"y":48,"l":42.5,"p":44.7,"q":47.3,"h":49.5},
{"t":62,"y":40,"l":34.5,"p":36.7,"q":39.3,"h":41.5},
{"t":62.1,"y":41,"l":35,"p":37.2,"q":39.8,"h":42},
{"t":62.2,"y":46,"l":40,"p":42.6,"q":45.4,"h":48},
{"t":62.41,"y":58.2,"l":48,"p":51.2,"q":54.8,"h":58},
{"t":62.52,"y":57,"l":47.5,"p":50.4,"q":53.6,"h":56.5},
{"t":62.63,"y":62.3,"l":50,"p":53.2,"q":56.8,"h":60},
{"t":62.8,"y":54.2,"l":46,"p":48.6,"q":51.4,"h":54},
{"t":63,"y":43.5,"l":38.5,"p":40.4,"q":42.6,"h":44.5},
{"t":63.14,"y":42.2,"l":39,"p":40.9,"q":43.1,"h":45},
{"t":63.25,"y":47,"l":43.5,"p":45.7,"q":48.3,"h":50.5},
{"t":63.41,"y":56.3,"l":50.5,"p":53.4,"q":56.6,"h":59.5},
{"t":63.5,"y":53.7,"l":51,"p":53.6,"q":56.4,"h":59},
{"t":63.65,"y":60.5,"l":53.5,"p":56.4,"q":59.6,"h":62.5},
{"t":63.85,"y":52,"l":49,"p":51.2,"q":53.8,"h":56},
{"t":64,"y":45.8,"l":43.8,"p":45.8,"q":47.8,"h":49.8},
{"t":64.1,"y":56.8,"l":54.8,"p":56.8,"q":58.8,"h":60.8},
{"t":64.2,"y":70.2,"l":66.7,"p":69.7,"q":72.7,"h":75.7},
{"t":64.39,"y":72.4,"l":68.7,"p":71.7,"q":74.7,"h":77.7},
{"t":64.56,"y":69.8,"l":66.7,"p":69.7,"q":73.7,"h":76.7},
{"t":64.7,"y":74.2,"l":68.7,"p":71.7,"q":74.7,"h":77.7},
{"t":64.85,"y":63.6,"l":61.1,"p":63.6,"q":66.1,"h":68.1},
{"t":65,"y":51,"l":49,"p":51,"q":53,"h":55},
{"t":65.1,"y":60.3,"l":58.3,"p":60.3,"q":62.3,"h":64.3},
{"t":65.2,"y":71.6,"l":67.7,"p":70.7,"q":73.7,"h":76.7},
{"t":65.39,"y":73.8,"l":69.7,"p":72.7,"q":75.7,"h":78.7},
{"t":65.56,"y":72.4,"l":67.7,"p":70.7,"q":74.7,"h":77.7},
{"t":65.7,"y":75.4,"l":69.7,"p":72.7,"q":75.7,"h":78.7},
{"t":65.85,"y":64.2,"l":61.7,"p":64.2,"q":66.7,"h":68.7},
{"t":66,"y":50.9,"l":48.9,"p":50.9,"q":52.9,"h":54.9},
{"t":66.1,"y":58.8,"l":56.8,"p":58.8,"q":60.8,"h":62.8},
{"t":66.2,"y":68.5,"l":64.9,"p":67.9,"q":70.9,"h":73.9},
{"t":66.39,"y":70.7,"l":66.9,"p":69.9,"q":72.9,"h":75.9},
{"t":66.56,"y":67.7,"l":64.9,"p":67.9,"q":71.9,"h":74.9},
{"t":66.7,"y":72.4,"l":66.9,"p":69.9,"q":72.9,"h":75.9},
{"t":66.85,"y":62.6,"l":60.1,"p":62.6,"q":65.1,"h":67.1},
{"t":67,"y":50.7,"l":48.7,"p":50.7,"q":52.7,"h":54.7},
{"t":67.1,"y":60.6,"l":58.6,"p":60.6,"q":62.6,"h":64.6},
{"t":67.2,"y":72.7,"l":68.4,"p":71.4,"q":74.4,"h":77.4},
{"t":67.39,"y":74.9,"l":70.4,"p":73.4,"q":76.4,"h":79.4},
{"t":67.56,"y":74,"l":68.4,"p":71.4,"q":75.4,"h":78.4},
{"t":67.7,"y":77.3,"l":70.4,"p":73.4,"q":76.4,"h":79.4},
{"t":67.85,"y":65.6,"l":63.1,"p":65.6,"q":68.1,"h":70.1},
{"t":68,"y":51.9,"l":49.9,"p":51.9,"q":53.9,"h":55.9},
{"t":68.1,"y":60.9,"l":58.9,"p":60.9,"q":62.9,"h":64.9},
{"t":68.2,"y":71.8,"l":66.7,"p":69.7,"q":72.7,"h":75.7},
{"t":68.39,"y":74,"l":68.7,"p":71.7,"q":74.7,"h":77.7},
{"t":68.56,"y":69.8,"l":66.7,"p":69.7,"q":73.7,"h":76.7},
{"t":68.7,"y":74.7,"l":68.7,"p":71.7,"q":74.7,"h":77.7},
{"t":68.85,"y":63.3,"l":60.8,"p":63.3,"q":65.8,"h":67.8},
{"t":69,"y":49.8,"l":47.8,"p":49.8,"q":51.8,"h":53.8},
{"t":69.1,"y":50.3,"l":48.3,"p":50.3,"q":52.3,"h":54.3},
{"t":69.2,"y":55.8,"l":53.8,"p":56.8,"q":59.8,"h":62.8},
{"t":69.39,"y":63.1,"l":60.6,"p":64.1,"q":67.1,"h":70.1},
{"t":69.56,"y":59.1,"l":57.6,"p":60.6,"q":64.1,"h":67.6},
{"t":69.7,"y":65.6,"l":62.1,"p":65.1,"q":68.1,"h":70.6},
{"t":69.85,"y":55,"l":52.5,"p":55,"q":57.5,"h":59.5},
{"t":69.96,"y":46.6,"l":45,"p":46.6,"q":48.6,"h":50.5}
],
"days":[
{"d":0,"w":"Sun"},{"d":1,"w":"Mon"},{"d":2,"w":"Tue"},{"d":3,"w":"Wed"},{"d":4,"w":"Thu"},{"d":5,"w":"Fri"},{"d":6,"w":"Sat"},
{"d":7,"w":"Sun"},{"d":8,"w":"Mon"},{"d":9,"w":"Tue"},{"d":10,"w":"Wed"},{"d":11,"w":"Thu"},{"d":12,"w":"Fri"},{"d":13,"w":"Sat"},
{"d":14,"w":"Sun"},{"d":15,"w":"Mon"},{"d":16,"w":"Tue"},{"d":17,"w":"Wed"},{"d":18,"w":"Thu"},{"d":19,"w":"Fri"},{"d":20,"w":"Sat"},
{"d":21,"w":"Sun"},{"d":22,"w":"Mon"},{"d":23,"w":"Tue"},{"d":24,"w":"Wed"},{"d":25,"w":"Thu"},{"d":26,"w":"Fri"},{"d":27,"w":"Sat"},
{"d":28,"w":"Sun"},{"d":29,"w":"Mon"},{"d":30,"w":"Tue"},{"d":31,"w":"Wed"},{"d":32,"w":"Thu"},{"d":33,"w":"Fri"},{"d":34,"w":"Sat"},
{"d":35,"w":"Sun"},{"d":36,"w":"Mon"},{"d":37,"w":"Tue"},{"d":38,"w":"Wed"},{"d":39,"w":"Thu"},{"d":40,"w":"Fri"},{"d":41,"w":"Sat"},
{"d":42,"w":"Sun"},{"d":43,"w":"Mon"},{"d":44,"w":"Tue"},{"d":45,"w":"Wed"},{"d":46,"w":"Thu"},{"d":47,"w":"Fri"},{"d":48,"w":"Sat"},
{"d":49,"w":"Sun"},{"d":50,"w":"Mon"},{"d":51,"w":"Tue"},{"d":52,"w":"Wed"},{"d":53,"w":"Thu"},{"d":54,"w":"Fri"},{"d":55,"w":"Sat"},
{"d":56,"w":"Sun"},{"d":57,"w":"Mon"},{"d":58,"w":"Tue"},{"d":59,"w":"Wed"},{"d":60,"w":"Thu"},{"d":61,"w":"Fri"},{"d":62,"w":"Sat"},
{"d":63,"w":"Sun"},{"d":64,"w":"Mon"},{"d":65,"w":"Tue"},{"d":66,"w":"Wed"},{"d":67,"w":"Thu"},{"d":68,"w":"Fri"},{"d":69,"w":"Sat"}
],
"hld":[{"d":0},{"d":53},{"d":54},{"d":55},{"d":60},{"d":61},{"d":66}],
"lv":[
{"v":1},{"v":2},{"v":3},{"v":4},{"v":5},{"v":6},{"v":7},{"v":8},{"v":9},{"v":10},
{"v":11},{"v":12},{"v":13},{"v":14},{"v":15},{"v":16},{"v":17},{"v":18},{"v":19},{"v":20},
{"v":21},{"v":22},{"v":23},{"v":24},{"v":25},{"v":26},{"v":27},{"v":28},{"v":29},{"v":30},
{"v":31},{"v":32},{"v":33},{"v":34},{"v":35},{"v":36},{"v":37},{"v":38},{"v":39},{"v":40},
{"v":41},{"v":42},{"v":43},{"v":44},{"v":45},{"v":46},{"v":47},{"v":48},{"v":49},{"v":50},
{"v":51},{"v":52},{"v":53},{"v":54},{"v":55},{"v":56},{"v":57},{"v":58},{"v":59},{"v":60},
{"v":61},{"v":62},{"v":63},{"v":64},{"v":65},{"v":66},{"v":67},{"v":68},{"v":69},{"v":70},
{"v":71},{"v":72},{"v":73},{"v":74},{"v":75},{"v":76},{"v":77},{"v":78},{"v":79},{"v":80},
{"v":81},{"v":82},{"v":83},{"v":84},{"v":85},{"v":86},{"v":87},{"v":88},{"v":89},{"v":90},
{"v":91},{"v":92},{"v":93},{"v":94},{"v":95},{"v":96},{"v":97},{"v":98},{"v":99}
],
"lab":[{"v":1,"s":"1%"},{"v":10,"s":"10%"},{"v":20,"s":"20%"},{"v":30,"s":"30%"},{"v":40,"s":"40%"},{"v":50,"s":"50%"},{"v":60,"s":"60%"},{"v":70,"s":"70%"},{"v":80,"s":"80%"},{"v":90,"s":"90%"},{"v":99,"s":"99%"}]
},
"layer":[
 {"layer":[
  {"data":{"name":"fc"},
   "mark":{"type":"area","interpolate":"monotone","fill":"#FF6F66","opacity":0.78},
   "encoding":{
    "x":{"field":"t","type":"quantitative","scale":{"domain":[0,75.45],"nice":false,"zero":false},
      "axis":{"values":[0,1,2,3,4,5,6,7,8,9,10,11,12,13,14,15,16,17,18,19,20,21,22,23,24,25,26,27,28,29,30,31,32,33,34,35,36,37,38,39,40,41,42,43,44,45,46,47,48,49,50,51,52,53,54,55,56,57,58,59,60,61,62,63,64,65,66,67,68,69,70],
       "labelExpr":"datum.value % 2 == 0 ? timeFormat(datetime(2015, 10, 1 + datum.value), '%d%b%y') : ''",
       "labelAngle":-35,"labelAlign":"right","labelBaseline":"top","labelFontSize":26,"labelPadding":3,"labelOverlap":false,"labelFlush":false,"labelBound":false,
       "tickSize":14,"grid":true,"title":"Time","titleFontSize":36,"titlePadding":4}},
    "y":{"field":"l","type":"quantitative","scale":{"domain":[28.2,88],"nice":false,"zero":false},
      "axis":{"values":[30,40,50,60,70,80],"labelFontSize":35,"labelPadding":16,"tickSize":14,"grid":true,"title":"Consumption in GW","titleFontSize":36,"titlePadding":22}},
    "y2":{"field":"h"}}},
  {"data":{"name":"fc"},
   "mark":{"type":"area","interpolate":"monotone","fillOpacity":0,"stroke":"#FFC44A","strokeWidth":3,"strokeOpacity":0.85},
   "encoding":{"x":{"field":"t","type":"quantitative"},"y":{"field":"p","type":"quantitative","title":"Consumption in GW"},"y2":{"field":"q"}}},
  {"data":{"name":"fc"},
   "mark":{"type":"area","interpolate":"monotone","fill":"#8FA5EC","fillOpacity":0.95,"stroke":"#86E07A","strokeWidth":1.4},
   "encoding":{"x":{"field":"t","type":"quantitative"},"y":{"field":"p","type":"quantitative","title":"Consumption in GW"},"y2":{"field":"q"}}},
  {"data":{"name":"fc"},
   "mark":{"type":"line","interpolate":"monotone","color":"black","strokeWidth":2},
   "encoding":{"x":{"field":"t","type":"quantitative","title":"Time"},"y":{"field":"y","type":"quantitative","title":"Consumption in GW"}}},
  {"data":{"name":"days"},"transform":[{"filter":"datum.d % 2 == 0"}],
   "mark":{"type":"text","dx":11,"fontSize":15,"font":"Liberation Serif","color":"#008000","baseline":"alphabetic","align":"center"},
   "encoding":{"x":{"field":"d","type":"quantitative","title":"Time"},"y":{"datum":85.14,"type":"quantitative"},"text":{"field":"w"}}},
  {"data":{"name":"days"},"transform":[{"filter":"datum.d % 2 == 1"}],
   "mark":{"type":"text","dx":11,"fontSize":15,"font":"Liberation Serif","color":"#008000","baseline":"alphabetic","align":"center"},
   "encoding":{"x":{"field":"d","type":"quantitative","title":"Time"},"y":{"datum":83.18,"type":"quantitative"},"text":{"field":"w"}}},
  {"data":{"name":"hld"},
   "mark":{"type":"text","dx":11,"fontSize":15,"font":"Liberation Serif","color":"#1E5E1E","baseline":"alphabetic","align":"center","text":"Hld"},
   "encoding":{"x":{"field":"d","type":"quantitative","title":"Time"},"y":{"datum":81.86,"type":"quantitative"}}}
 ]},
 {"layer":[
  {"data":{"name":"lv"},
   "mark":{"type":"rule","strokeWidth":3},
   "encoding":{"x":{"datum":70.61,"type":"quantitative"},"x2":{"datum":72.14},
    "y":{"field":"v","type":"quantitative","scale":{"domain":[-3.98,104.32],"nice":false,"zero":false},"axis":null},
    "color":{"field":"v","type":"quantitative","legend":null,
      "scale":{"type":"linear","interpolate":"rgb","domain":[1,5,10,13,20,30,40,50,60,70,80,87,90,95,99],
       "range":["#FF4040","#FF8040","#FFC040","#FFFF40","#40FF40","#40B080","#4080C0","#4040FF","#4080C0","#40B080","#40FF40","#FFFF40","#FFC040","#FF8040","#FF4040"]}}}},
  {"data":{"name":"lab"},
   "mark":{"type":"rule","strokeWidth":3},
   "encoding":{"x":{"datum":70.61,"type":"quantitative"},"x2":{"datum":73.18},
    "y":{"field":"v","type":"quantitative","axis":null},
    "color":{"field":"v","type":"quantitative","legend":null}}},
  {"data":{"name":"lab"},
   "mark":{"type":"text","align":"left","baseline":"middle","fontSize":22,"font":"Liberation Serif","dx":2},
   "encoding":{"x":{"datum":73.18,"type":"quantitative"},
    "y":{"field":"v","type":"quantitative","axis":null},
    "text":{"field":"s"},
    "color":{"field":"v","type":"quantitative","legend":null}}}
 ]}
],
"resolve":{"scale":{"y":"independent"}}
}
